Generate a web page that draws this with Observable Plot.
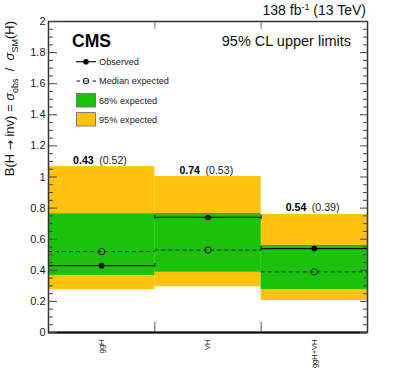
<!DOCTYPE html>
<html><head><meta charset="utf-8">
<script src="https://cdn.jsdelivr.net/npm/d3@7"></script>
<script src="https://cdn.jsdelivr.net/npm/@observablehq/plot@0.6"></script>
<style>body{margin:0;background:#fff} #chart{width:399px;height:391px}</style>
</head><body><div id="chart"></div>
<script>
const categories = ["ggH", "VH", "ggH+VH"];
const observed = [0.43, 0.74, 0.54];
const expected = [0.52, 0.53, 0.39];
const lo68 = [0.367, 0.388, 0.276];
const hi68 = [0.763, 0.765, 0.560];
const lo95 = [0.275, 0.294, 0.206];
const hi95 = [1.067, 1.003, 0.759];
const yMajor = [0, 0.2, 0.4, 0.6, 0.8, 1, 1.2, 1.4, 1.6, 1.8, 2];
const yMinor = d3.range(0, 41).filter(k => k % 4 !== 0).map(k => k * 0.05);
const legendItems = ["Observed", "Median expected", "68% expected", "95% expected"];

const YELLOW = "#FFC30F", GREEN = "#1BC20B";
const FONT = "'Liberation Sans', Arial, Helvetica, sans-serif";

const rows = categories.map((c, i) => ({
  i, cat: c, obs: observed[i], exp: expected[i],
  lo68: lo68[i], hi68: hi68[i], lo95: lo95[i], hi95: hi95[i]
}));
const caps = rows.flatMap(d => [{x: d.i, y: d.obs}, {x: d.i + 1, y: d.obs}]);

const plot = Plot.plot({
  width: 399, height: 391,
  marginLeft: 48, marginRight: 32, marginTop: 21, marginBottom: 59,
  style: {fontFamily: FONT, fontSize: "11px", background: "white", color: "#222"},
  x: {domain: [0, 3], axis: null, label: null},
  y: {domain: [0, 2], axis: null, label: null},
  marks: [
    Plot.rect(rows, {x1: "i", x2: d => d.i + 1, y1: "lo95", y2: "hi95", fill: YELLOW}),
    Plot.rect(rows, {x1: "i", x2: d => d.i + 1, y1: "lo68", y2: "hi68", fill: GREEN}),
    Plot.ruleY(rows, {x1: "i", x2: d => d.i + 1, y: "exp", stroke: "#111", strokeWidth: 1, strokeDasharray: "4,3"}),
    Plot.ruleY(rows, {x1: "i", x2: d => d.i + 1, y: "obs", stroke: "#111", strokeWidth: 1.2}),
    Plot.ruleX(caps, {x: "x", y1: "y", y2: "y", insetTop: -2, insetBottom: -2, stroke: "#111", strokeWidth: 1}),
    Plot.dot(rows, {x: d => d.i + 0.5, y: "obs", r: 2.8, fill: "#000", stroke: "none"}),
    Plot.dot(rows, {x: d => d.i + 0.5, y: "exp", r: 3.2, fill: "none", stroke: "#111", strokeWidth: 1}),
    Plot.text(rows, {x: d => d.i + 0.5, y: "hi95", text: d => d.obs.toFixed(2), textAnchor: "end",
      lineAnchor: "bottom", dx: -8, dy: -3, fontWeight: "bold", fontSize: 10.6, fill: "#000"}),
    Plot.text(rows, {x: d => d.i + 0.5, y: "hi95", text: d => `(${d.exp.toFixed(2)})`, textAnchor: "start",
      lineAnchor: "bottom", dx: -2.5, dy: -3, fontSize: 10.6, fill: "#222"}),
    Plot.frame({stroke: "#333", strokeWidth: 1.5}),
    Plot.ruleY([0], {stroke: "#000", strokeWidth: 2}),
    Plot.axisY(yMajor, {anchor: "left", tickSize: -9, tickPadding: 12, tickFormat: d => String(d), fontSize: 11, stroke: "#444", label: null}),
    Plot.axisY(yMinor, {anchor: "left", tickSize: -5, tickFormat: () => "", stroke: "#444", label: null}),
    Plot.axisY(yMajor, {anchor: "right", tickSize: -8, tickFormat: () => "", stroke: "#444", label: null}),
    Plot.axisY(yMinor, {anchor: "right", tickSize: -5, tickFormat: () => "", stroke: "#444", label: null}),
    Plot.axisX([1, 2], {anchor: "bottom", tickSize: -10, tickFormat: () => "", stroke: "#555", label: null}),
    Plot.axisX([1, 2], {anchor: "top", tickSize: -7, tickFormat: () => "", stroke: "#777", label: null}),
    Plot.axisX(categories.map((c, i) => i + 0.5), {anchor: "bottom", tickSize: 0, tickPadding: 7, tickRotate: -90,
      tickFormat: d => categories[Math.floor(d)], fontSize: 7.5, label: null})
  ]
});
document.getElementById("chart").append(plot);

const svg = d3.select(plot);
// top-right luminosity label
const lumi = svg.append("text").attr("x", 366).attr("y", 15).attr("text-anchor", "end")
  .attr("font-size", 14).attr("font-family", FONT).attr("fill", "#111");
lumi.append("tspan").text("138 fb");
lumi.append("tspan").attr("dy", -5).attr("font-size", 9).text("-1");
lumi.append("tspan").attr("dy", 5).text(" (13 TeV)");

svg.append("text").attr("x", 72).attr("y", 47).attr("text-anchor", "start").attr("font-size", 17.5).attr("font-weight", "bold")
  .attr("font-family", FONT).attr("fill", "#000").text("CMS");
svg.append("text").attr("x", 351).attr("y", 46).attr("text-anchor", "end").attr("font-size", 14.5)
  .attr("font-family", FONT).attr("fill", "#111").text("95% CL upper limits");

// y-axis title
const yt = svg.append("text").attr("transform", "translate(14,21) rotate(-90)").attr("text-anchor", "end")
  .attr("font-size", 13).attr("font-family", FONT).attr("fill", "#111");
yt.append("tspan").text("B(H ");
yt.append("tspan").attr("font-family", "'DejaVu Sans', sans-serif").attr("font-size", 12).text("\u2192");
yt.append("tspan").text(" inv) = ");
yt.append("tspan").attr("font-style", "italic").text("\u03C3");
yt.append("tspan").attr("dy", 4).attr("font-size", 9).text("obs");
yt.append("tspan").attr("dy", -4).text("  /  ");
yt.append("tspan").attr("font-style", "italic").text("\u03C3");
yt.append("tspan").attr("dy", 4).attr("font-size", 9).text("SM");
yt.append("tspan").attr("dy", -4).text("(H)");

// legend
const lg = svg.append("g").attr("font-family", FONT).attr("font-size", 9.2).attr("fill", "#222").attr("text-anchor", "start");
const ly = [61.7, 81, 100.3, 119.3];
lg.append("line").attr("x1", 76).attr("x2", 96).attr("y1", ly[0]).attr("y2", ly[0]).attr("stroke", "#111").attr("stroke-width", 1.2);
lg.append("circle").attr("cx", 86).attr("cy", ly[0]).attr("r", 2.8).attr("fill", "#000");
lg.append("line").attr("x1", 76.5).attr("x2", 96).attr("y1", ly[1]).attr("y2", ly[1]).attr("stroke", "#111")
  .attr("stroke-dasharray", "3.5,12.5").attr("stroke-width", 1);
lg.append("circle").attr("cx", 86).attr("cy", ly[1]).attr("r", 2.8).attr("fill", "none").attr("stroke", "#111");
lg.append("line").attr("x1", 83.2).attr("x2", 88.8).attr("y1", ly[1]).attr("y2", ly[1]).attr("stroke", "#111").attr("stroke-width", 0.8);
lg.append("rect").attr("x", 76.5).attr("y", ly[2] - 6.7).attr("width", 19).attr("height", 13.4).attr("fill", GREEN).attr("stroke", "#666").attr("stroke-width", 0.8);
lg.append("rect").attr("x", 76.5).attr("y", ly[3] - 6.7).attr("width", 19).attr("height", 13.4).attr("fill", YELLOW).attr("stroke", "#666").attr("stroke-width", 0.8);
legendItems.forEach((t, k) => {
  lg.append("text").attr("x", 99).attr("y", ly[k] + 3.3).attr("text-anchor", "start").text(t);
});
</script>
</body></html>
